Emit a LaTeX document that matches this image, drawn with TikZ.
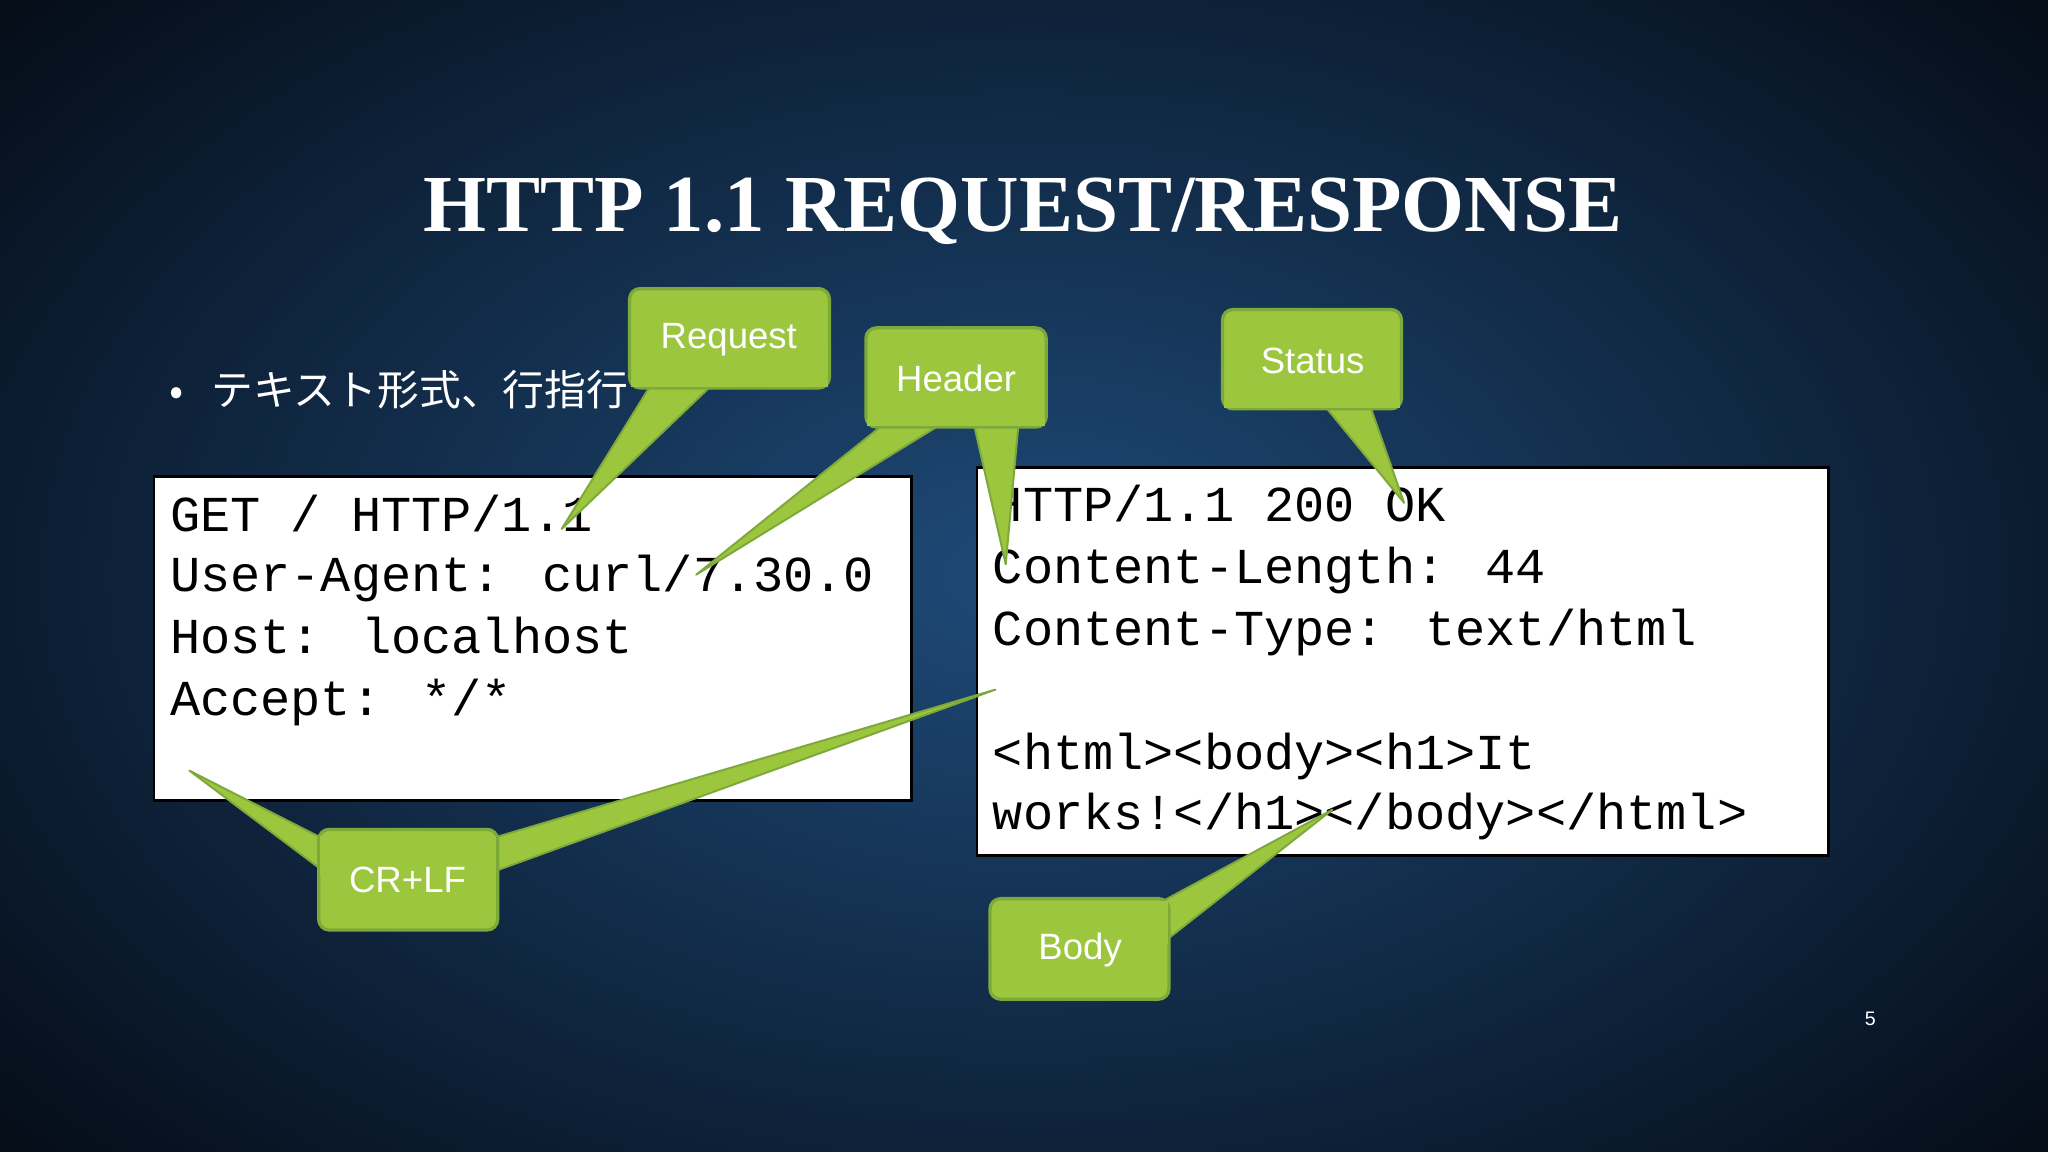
\documentclass[tikz,border=0pt]{standalone}
\usepackage{fontspec}
\setmainfont{Liberation Serif}
\newfontfamily\monof{Liberation Mono}
\newfontfamily\sansf{Liberation Sans}
\newfontfamily\cjkf{Noto Sans CJK JP}
\definecolor{bgin}{HTML}{1E4A78}
\definecolor{bgout}{HTML}{040A14}
\definecolor{callg}{HTML}{9CC63E}
\definecolor{callb}{HTML}{7DA83A}
\begin{document}
\begin{tikzpicture}[x=1pt,y=-1pt,
  codebox/.style={fill=white,draw=black,line width=2pt},
  code/.style={font=\monof\fontsize{38.5}{46}\selectfont,anchor=base west,text=black,inner sep=0},
  call/.style={fill=callg,draw=callb,line width=2.5pt,rounded corners=8pt},
  ptr/.style={fill=callg,draw=callb,line width=1.5pt,line join=round},
  calltext/.style={font=\sansf\fontsize{28}{32}\selectfont,text=white}]
\useasboundingbox (0,0) rectangle (1568,882);
\shade[inner color=bgin,outer color=bgout] (-300,-250) rectangle (1868,1132);
\node[font=\bfseries\fontsize{62}{66}\selectfont,text=white] (title) at (783,162) {HTTP 1.1 REQUEST/RESPONSE};
\node[font=\cjkf\fontsize{32}{36}\selectfont,text=white,anchor=west] (bullet) at (126,298) {•\ \ \ テキスト形式、行指行};
\node[font=\sansf\fontsize{15}{18}\selectfont,text=white] (pg) at (1432,780) {5};
\draw[codebox] (118,365) rectangle (698,613);
\draw[codebox] (748,358) rectangle (1400,655);
\node[code] (l1) at (130,407) {GET / HTTP/1.1};
\node[code] (l2) at (130,453) {User-Agent: curl/7.30.0};
\node[code] (l3) at (130,500) {Host: localhost};
\node[code] (l4) at (130,548) {Accept: */*};
\node[code] (r1) at (760,399) {HTTP/1.1 200 OK};
\node[code] (r2) at (760,447) {Content-Length: 44};
\node[code] (r3) at (760,494) {Content-Type: text/html};
\node[code] (r4) at (760,589) {<html><body><h1>It};
\node[code] (r5) at (760,635) {works!</h1></body></html>};
\coordinate (tReq) at (430,405);
\coordinate (tH1) at (533,440);
\coordinate (tH2) at (770,432);
\coordinate (tSt) at (1075,385);
\coordinate (tC1) at (145,590);
\coordinate (tC2) at (762,528);
\coordinate (tBo) at (1020,620);
\draw[ptr] (500,292) -- (tReq) -- (548,292) -- cycle;
\draw[ptr] (680,322) -- (tH1) -- (725,322) -- cycle;
\draw[ptr] (745,322) -- (tH2) -- (780,322) -- cycle;
\draw[ptr] (1012,308) -- (tSt) -- (1048,308) -- cycle;
\draw[ptr] (249,643) -- (tC1) -- (249,668) -- cycle;
\draw[ptr] (376,642) -- (tC2) -- (376,668) -- cycle;
\draw[ptr] (890,690) -- (tBo) -- (890,722) -- cycle;
\draw[call] (482,221) rectangle (635,297);
\node[calltext] (req) at (558,260) {Request};
\draw[call] (663,251) rectangle (801,327);
\node[calltext] (hdr) at (732,290) {Header};
\draw[call] (936,237) rectangle (1073,313);
\node[calltext] (st) at (1005,276) {Status};
\draw[call] (244,635) rectangle (381,712);
\node[calltext] (crlf) at (312,674) {CR+LF};
\draw[call] (758,688) rectangle (895,765);
\node[calltext] (body) at (827,727) {Body};
\fill[callg] (483,290) rectangle (634,296.5);
\fill[callg] (664,320) rectangle (800,326);
\fill[callg] (937,306) rectangle (1072,312);
\fill[callg] (245,640) rectangle (252,670);
\fill[callg] (373,640) rectangle (380,670);
\fill[callg] (887,690) rectangle (894,722);
\end{tikzpicture}
\end{document}
